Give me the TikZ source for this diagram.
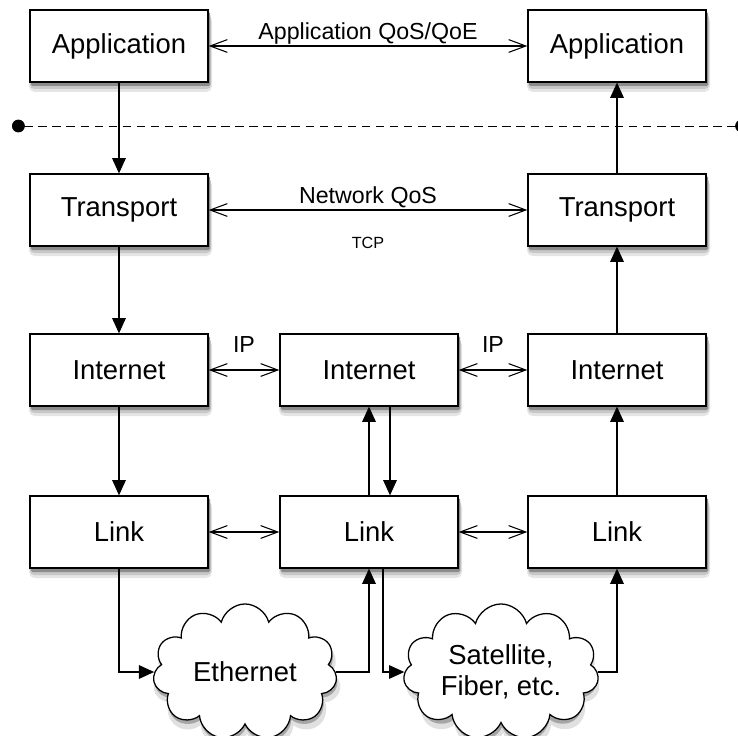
\documentclass[tikz,border=0pt]{standalone}
\usepackage{fontspec}
\setmainfont{Liberation Sans}
\usetikzlibrary{arrows.meta,shapes.symbols}

\tikzset{
  layer/.style={draw, line width=0.9pt, fill=white, minimum width=4.45cm, minimum height=1.8cm,
    font=\fontsize{19.5}{22}\selectfont},
  net/.style={cloud, cloud puffs=11, cloud ignores aspect, draw, line width=0.9pt, fill=white,
    align=center, font=\fontsize{19.5}{22}\selectfont},
  haze/.style={fill=black!#1, draw=none},
  peer/.style={{Straight Barb[length=4.3mm,width=3.2mm]}-{Straight Barb[length=4.3mm,width=3.2mm]}, line width=0.75pt},
  flow/.style={-{Triangle[length=3.8mm,width=3.4mm]}, line width=0.75pt},
  lbl/.style={font=\fontsize{16.5}{18}\selectfont}
}

\begin{document}
\begin{tikzpicture}[x=0.025cm, y=-0.025cm]
\useasboundingbox (0,0) rectangle (738,736);

% soft shadows first, so the boxes sit on top of them
\foreach \cx/\cy in {119/46,617/46,119/210,617/210,119/370,369/370,617/370,119/532,369/532,617/532}{
  \fill[haze=10, rounded corners=4pt] (\cx-90,\cy-30) rectangle (\cx+93,\cy+46);
  \fill[haze=22, rounded corners=3pt] (\cx-89,\cy-32) rectangle (\cx+92,\cy+43);
  \fill[haze=45, rounded corners=1pt] (\cx-88,\cy-34) rectangle (\cx+91,\cy+40);
}
\node[net, haze=12, minimum width=4.7cm, minimum height=3.5cm] (ethS) at (247,680) {};
\node[net, haze=35, minimum width=4.6cm, minimum height=3.4cm] (ethT) at (246,676) {};
\node[net, haze=12, minimum width=4.85cm, minimum height=3.5cm] (satS) at (503,680) {};
\node[net, haze=35, minimum width=4.75cm, minimum height=3.4cm] (satT) at (502,676) {};

% host and router stacks
\node[layer] (appL) at (119,46) {Application};
\node[layer] (appR) at (617,46) {Application};
\node[layer] (trL) at (119,210) {Transport};
\node[layer] (trR) at (617,210) {Transport};
\node[layer] (inL) at (119,370) {Internet};
\node[layer] (inM) at (369,370) {Internet};
\node[layer] (inR) at (617,370) {Internet};
\node[layer] (lnL) at (119,532) {Link};
\node[layer] (lnM) at (369,532) {Link};
\node[layer] (lnR) at (617,532) {Link};

% physical media
\node[net, minimum width=4.6cm, minimum height=3.4cm] (eth) at (245,672) {Ethernet};
\node[net, minimum width=4.75cm, minimum height=3.4cm] (sat) at (501,672) {Satellite,\\Fiber, etc.};

% boundary between application and network
\coordinate (dl) at (12,126);
\coordinate (dr) at (748,126);
\draw[dashed, dash pattern=on 6pt off 4pt, line width=0.7pt,
  {Circle[length=3.2mm]}-{Circle[length=3.2mm]}] (dl) -- (dr);

% peer relations
\draw[peer] (appL) -- node[lbl, above, inner sep=1pt] (qoe) {Application QoS/QoE} (appR);
\draw[peer] (trL) -- node[lbl, above, inner sep=1pt] (nqos) {Network QoS}
  node[below=0.55cm, font=\fontsize{11.5}{13}\selectfont] (tcp) {TCP} (trR);
\draw[peer] (inL) -- node[lbl, above=0.3cm] (ipL) {IP} (inM);
\draw[peer] (inM) -- node[lbl, above=0.3cm] (ipR) {IP} (inR);
\draw[peer] (lnL) -- (lnM);
\draw[peer] (lnM) -- (lnR);

% data flow down the sender, through the router, up the receiver
\draw[flow] (appL) -- (trL);
\draw[flow] (trL) -- (inL);
\draw[flow] (inL) -- (lnL);
\draw[flow] (lnM) -- (inM);
\draw[flow] ([xshift=0.525cm]inM.south) -- ([xshift=0.525cm]lnM.north);
\draw[flow] (lnR) -- (inR);
\draw[flow] (inR) -- (trR);
\draw[flow] (trR) -- (appR);

\draw[flow] (lnL.south) |- (eth.west);
\draw[flow] (eth.east) -| (lnM.south);
\draw[flow] ([xshift=0.35cm]lnM.south) |- (sat.west);
\draw[flow] (sat.east) -| (lnR.south);
\end{tikzpicture}
\end{document}
